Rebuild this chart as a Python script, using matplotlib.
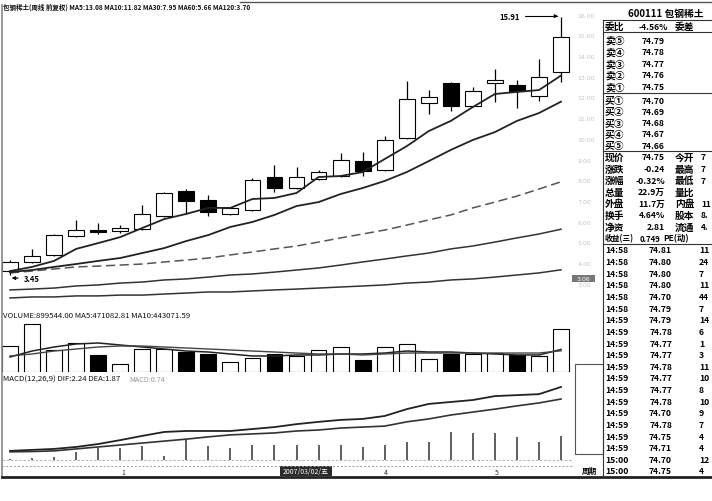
import matplotlib
matplotlib.use('Agg')
import matplotlib.pyplot as plt
from matplotlib.patches import Rectangle

plt.rcParams['font.family'] = ['Noto Sans CJK SC', 'DejaVu Sans']

W, H = 712, 502

# ---------------- data ----------------
weeks = list(range(26))
opens = [3.64, 4.08, 4.42, 5.33, 5.62, 5.57, 5.67, 6.30, 7.51, 7.07, 6.40, 6.59, 8.18,
         7.65, 8.09, 8.23, 8.95, 8.52, 10.07, 11.76, 12.72, 11.61, 12.72, 12.62, 12.09, 13.25]
closes = [4.08, 4.37, 5.38, 5.62, 5.53, 5.72, 6.40, 7.41, 7.02, 6.49, 6.69, 8.04, 7.65,
          8.18, 8.42, 9.00, 8.47, 9.97, 11.95, 12.05, 11.61, 12.33, 12.87, 12.33, 13.01, 14.94]
highs = [4.17, 4.71, 5.43, 6.11, 5.96, 5.86, 6.83, 7.46, 7.60, 7.31, 6.73, 8.13, 8.76,
         8.66, 8.52, 9.34, 9.39, 10.16, 12.82, 12.38, 12.77, 12.53, 13.40, 12.87, 13.88, 15.91]
lows = [3.45, 4.03, 4.37, 5.28, 5.43, 5.48, 5.62, 6.25, 6.40, 6.30, 6.35, 6.54, 7.46,
        7.60, 8.04, 8.18, 8.23, 8.47, 10.02, 11.22, 11.37, 11.56, 11.80, 11.51, 11.85, 12.77]

ma5 = [3.64, 3.84, 4.13, 4.71, 4.99, 5.28, 5.72, 6.15, 6.40, 6.69, 6.69, 7.12, 7.17,
       7.41, 8.18, 8.23, 8.42, 9.05, 9.67, 10.40, 10.89, 11.56, 12.19, 12.29, 12.38, 13.08]
ma10 = [3.59, 3.69, 3.84, 3.98, 4.13, 4.27, 4.51, 4.75, 5.09, 5.38, 5.77, 6.01, 6.35,
        6.78, 6.97, 7.36, 7.65, 7.99, 8.42, 8.95, 9.49, 9.97, 10.35, 10.89, 11.27, 11.82]
ma30 = [3.55, 3.64, 3.74, 3.84, 3.88, 3.93, 3.98, 4.08, 4.17, 4.27, 4.42, 4.56, 4.71,
        4.85, 5.04, 5.24, 5.43, 5.62, 5.86, 6.11, 6.35, 6.69, 6.97, 7.26, 7.60, 7.95]
ma60 = [2.73, 2.77, 2.82, 2.92, 2.97, 3.06, 3.11, 3.21, 3.26, 3.35, 3.45, 3.50, 3.59,
        3.69, 3.79, 3.93, 4.08, 4.22, 4.37, 4.51, 4.71, 4.85, 5.04, 5.24, 5.43, 5.66]
ma120 = [2.34, 2.39, 2.39, 2.44, 2.44, 2.48, 2.48, 2.53, 2.58, 2.63, 2.63, 2.68, 2.73,
         2.77, 2.82, 2.87, 2.92, 2.97, 3.06, 3.11, 3.21, 3.26, 3.35, 3.45, 3.55, 3.70]

volume = [544000, 1004000, 460000, 607000, 356000, 167000, 481000, 481000, 418000, 377000,
          209000, 293000, 377000, 335000, 460000, 523000, 251000, 523000, 586000, 272000,
          377000, 380000, 400000, 350000, 325000, 899544]
vol_ma5 = [314000, 439000, 523000, 586000, 607000, 565000, 523000, 481000, 439000, 418000,
           377000, 335000, 335000, 356000, 356000, 377000, 377000, 397000, 439000, 418000,
           418000, 397000, 377000, 356000, 356000, 471083]
vol_ma10 = [335000, 377000, 439000, 481000, 523000, 544000, 544000, 523000, 502000, 481000,
            460000, 439000, 418000, 397000, 377000, 377000, 356000, 377000, 397000, 397000,
            397000, 397000, 397000, 397000, 397000, 443072]

dif = [0.28, 0.31, 0.34, 0.40, 0.49, 0.61, 0.74, 0.86, 0.89, 0.89, 0.89, 0.95, 1.01,
       1.10, 1.17, 1.23, 1.26, 1.35, 1.56, 1.72, 1.78, 1.84, 1.96, 1.99, 2.02, 2.24]
dea = [0.25, 0.26, 0.28, 0.34, 0.40, 0.46, 0.52, 0.58, 0.64, 0.71, 0.77, 0.80, 0.83,
       0.89, 0.92, 0.98, 1.01, 1.04, 1.17, 1.26, 1.38, 1.47, 1.56, 1.66, 1.75, 1.87]
macd = [0.04, 0.06, 0.08, 0.25, 0.37, 0.37, 0.43, 0.12, 0.61, 0.43, 0.37, 0.46, 0.46,
        0.46, 0.46, 0.46, 0.40, 0.46, 0.55, 0.55, 0.86, 0.83, 0.83, 0.71, 0.55, 0.74]

ask_labels = ['卖⑤', '卖④', '卖③', '卖②', '卖①']
ask_prices = ['74.79', '74.78', '74.77', '74.76', '74.75']
bid_labels = ['买①', '买②', '买③', '买④', '买⑤']
bid_prices = ['74.70', '74.69', '74.68', '74.67', '74.66']
stat_labels = ['现价', '涨跌', '涨幅', '总量', '外盘', '换手', '净资', '收益(三)']
stat_values = ['74.75', '-0.24', '-0.32%', '22.9万', '11.7万', '4.64%', '2.81', '0.749']
stat_labels2 = ['今开', '最高', '最低', '量比', '内盘', '股本', '流通', 'PE(动)']
stat_values2 = ['7', '7', '7', '', '11', '8.', '4.', '']
tick_times = ['14:58'] * 6 + ['14:59'] * 12 + ['15:00'] * 2
tick_prices = ['74.81', '74.80', '74.80', '74.80', '74.70', '74.79', '74.79', '74.78',
               '74.77', '74.77', '74.78', '74.77', '74.77', '74.78', '74.70', '74.78',
               '74.75', '74.71', '74.70', '74.75']
tick_vols = ['11', '24', '7', '11', '44', '7', '14', '6', '1', '3', '11', '10', '8', '10',
             '9', '7', '4', '4', '12', '4']

# ---------------- layout helpers ----------------
fig = plt.figure(figsize=(W / 100, H / 100), dpi=100)
fig.patch.set_facecolor('white')

X0PIX, XSTEP = 10.0, 22.04


def add_ax(x0, y0, x1, y1):
    ax = fig.add_axes([x0 / W, 1 - y1 / H, (x1 - x0) / W, (y1 - y0) / H])
    ax.set_xlim((x0 - X0PIX) / XSTEP, (x1 - X0PIX) / XSTEP)
    ax.set_facecolor('none')
    for s in ax.spines.values():
        s.set_visible(False)
    ax.set_xticks([])
    ax.set_yticks([])
    return ax


# main price panel (linear price scale: 20.71 px per unit, 3.45 at y=276)
ax = add_ax(2, 12, 573, 306)
ax.set_ylim(3.45 + (276 - 306) / 20.71, 3.45 + (276 - 12) / 20.71)

ax.vlines(weeks, lows, highs, color='black', lw=0.9, zorder=2)
up = [c >= o for o, c in zip(opens, closes)]
bottoms = [min(o, c) for o, c in zip(opens, closes)]
heights = [max(abs(c - o), 0.05) for o, c in zip(opens, closes)]
ax.bar(weeks, heights, bottom=bottoms, width=0.72,
       color=['white' if u else 'black' for u in up],
       edgecolor='black', linewidth=0.8, zorder=3)
ax.plot(weeks, ma5, color='#222222', lw=1.3, zorder=4)
ax.plot(weeks, ma10, color='#222222', lw=1.3, zorder=4)
ax.plot(weeks, ma30, color='#555555', lw=1.1, ls=(0, (6, 3)), zorder=1)
ax.plot(weeks, ma60, color='#333333', lw=1.1, zorder=1)
ax.plot(weeks, ma120, color='#333333', lw=1.1, zorder=1)

# high / low markers
ax.annotate('15.91', xy=(25, 15.91 + 0.05), xytext=(22.2, 15.95),
            fontsize=5.5, fontweight='bold', va='center', ha='left',
            arrowprops=dict(arrowstyle='-|>', color='black', lw=0.8,
                            connectionstyle='angle,angleA=0,angleB=90', mutation_scale=5))
ax.annotate('3.45', xy=(-0.05, 3.45 - 0.15), xytext=(0.62, 3.45 - 0.15),
            fontsize=5.5, fontweight='bold', va='center', ha='left',
            arrowprops=dict(arrowstyle='-|>', color='black', lw=0.8, mutation_scale=5))

# faint right price labels
for p in range(3, 17):
    ax.text(25.75, p, '%.2f' % p, fontsize=4.5, color='#c4c4c4', va='center', ha='left',
            clip_on=False, family='DejaVu Sans')

# volume panel
axv = add_ax(2, 320, 573, 373)
axv.set_ylim(0, 53 * 20920)
vup = [c >= o for o, c in zip(opens, closes)]
axv.bar(weeks, volume, width=0.72, color=['white' if u else 'black' for u in vup],
        edgecolor='black', linewidth=0.8, zorder=2)
axv.plot(weeks, vol_ma5, color='#222222', lw=1.1, zorder=3)
axv.plot(weeks, vol_ma10, color='#444444', lw=1.0, zorder=3)

# MACD panel (32.6 px per unit, zero at y=461)
axm = add_ax(2, 384, 573, 463)
axm.set_ylim((461 - 463) / 32.6, (461 - 384) / 32.6)
axm.axhline(0, color='#aaaaaa', lw=0.6, ls=(0, (3, 2)))
axm.vlines(weeks, 0, macd, color='#333333', lw=1.1)
axm.plot(weeks, dif, color='#222222', lw=1.3)
axm.plot(weeks, dea, color='#333333', lw=1.2)

# ---------------- overlay (pixel coordinates) ----------------
ov = fig.add_axes([0, 0, 1, 1])
ov.set_xlim(0, W)
ov.set_ylim(H, 0)
ov.axis('off')
ov.set_zorder(5)
ov.patch.set_alpha(0)

LW = 0.8
# frames
ov.plot([2, 2], [6, 478], color='#888888', lw=1.2)
ov.plot([240, 712], [3, 3], color='#555555', lw=1.0)
ov.plot([2, 712], [478, 478], color='#222222', lw=2.0)
ov.plot([2, 573], [467, 467], color='#999999', lw=0.7, ls=(0, (2, 2)))
ov.plot([603, 603], [21, 478], color='#333333', lw=LW)
for yy in [21, 33, 94, 152, 245]:
    ov.plot([603, 712], [yy, yy], color='#333333', lw=LW)

# title lines
ov.text(3, 7, '包钢稀土(周线 前复权) MA5:13.08 MA10:11.82 MA30:7.95 MA60:5.66 MA120:3.70',
        fontsize=4.7, va='center', ha='left', color='#111111', fontweight='bold')
ov.text(3, 316, 'VOLUME:899544.00 MA5:471082.81 MA10:443071.59',
        fontsize=5.6, va='center', ha='left', color='#111111')
ov.text(3, 380, 'MACD(12,26,9) DIF:2.24 DEA:1.87', fontsize=5.6, va='center', ha='left',
        color='#111111')
ov.text(129, 380, 'MACD:0.74', fontsize=5.2, va='center', ha='left', color='#999999')

# date strip
ov.add_patch(Rectangle((280, 467), 52, 10, facecolor='#2a2a2a', edgecolor='none'))
ov.text(306, 472.5, '2007/03/02/五', fontsize=5, color='white', va='center', ha='center')
for xx, lab in [(123, '1'), (386, '4'), (497, '5')]:
    ov.text(xx, 473, lab, fontsize=5, color='#333333', va='center', ha='center')

# axis side decorations
ov.add_patch(Rectangle((575, 365), 28, 90, facecolor='none', edgecolor='#555555', lw=0.8))
ov.add_patch(Rectangle((572, 276), 23, 7, facecolor='#777777', edgecolor='none'))
ov.text(583.5, 279.5, '3.06', fontsize=4.5, color='white', va='center', ha='center',
        family='DejaVu Sans')
ov.text(589, 471, '周期', fontsize=5.5, fontweight='bold', va='center', ha='center')

# right info panel
BOLD = dict(fontweight='bold', va='center', color='black')
ov.text(628, 14, '600111 包钢稀土', fontsize=7, ha='left', **BOLD)
ov.text(605, 27, '委比', fontsize=7, ha='left', **BOLD)
ov.text(668, 27, '-4.56%', fontsize=6.2, ha='right', **BOLD)
ov.text(675, 27, '委差', fontsize=7, ha='left', **BOLD)
for i, (lab, val) in enumerate(zip(ask_labels, ask_prices)):
    y = 41 + i * 11.6
    ov.text(605, y, lab, fontsize=7, ha='left', **BOLD)
    ov.text(665, y, val, fontsize=6.2, ha='right', **BOLD)
for i, (lab, val) in enumerate(zip(bid_labels, bid_prices)):
    y = 101 + i * 11.3
    ov.text(605, y, lab, fontsize=7, ha='left', **BOLD)
    ov.text(665, y, val, fontsize=6.2, ha='right', **BOLD)
for i in range(len(stat_labels)):
    y = 158 + i * 11.6
    last = i == len(stat_labels) - 1
    ov.text(605, y, stat_labels[i], fontsize=5.6 if last else 7, ha='left', **BOLD)
    ov.text(660 if last else 665, y, stat_values[i], fontsize=5.6 if last else 6.2,
            ha='right', **BOLD)
    ov.text(663 if last else 675, y, stat_labels2[i], fontsize=6.0 if last else 7,
            ha='left', **BOLD)
    ov.text(701, y, stat_values2[i], fontsize=6.0, ha='left', **BOLD)
for i in range(len(tick_times)):
    y = 251 + i * 11.63
    ov.text(605, y, tick_times[i], fontsize=6.2, ha='left', **BOLD)
    ov.text(672, y, tick_prices[i], fontsize=6.2, ha='right', **BOLD)
    ov.text(699, y, tick_vols[i], fontsize=6.2, ha='left', **BOLD)

fig.savefig('out.png', dpi=100, facecolor='white')
